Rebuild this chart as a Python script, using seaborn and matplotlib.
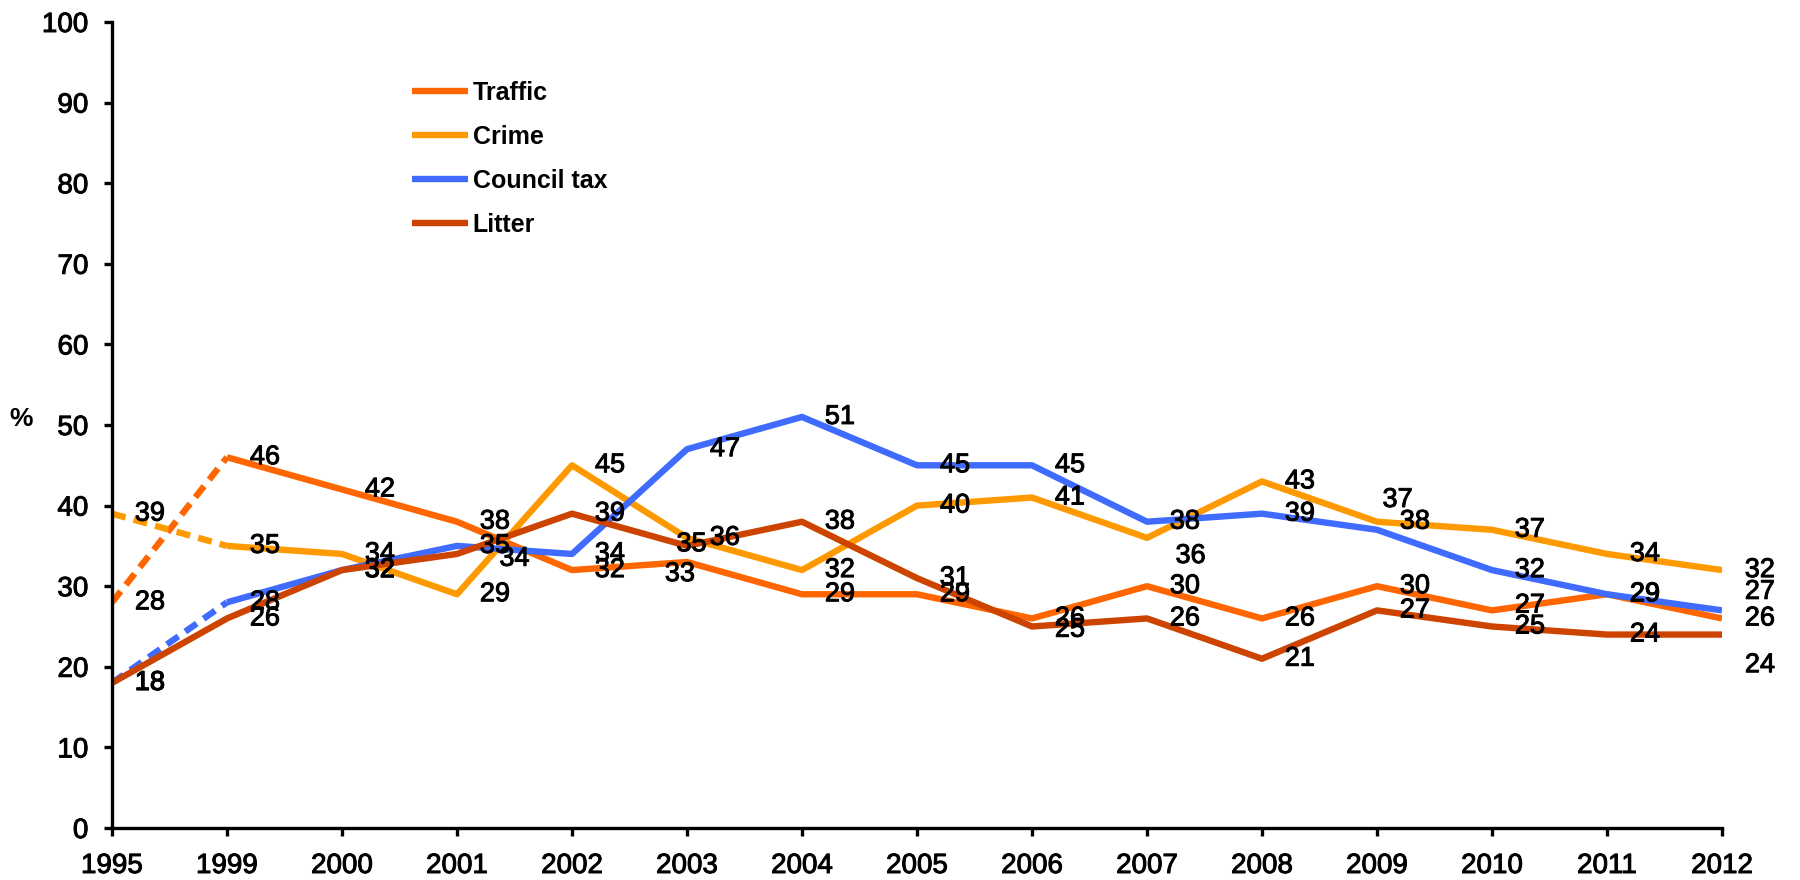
import numpy as np
import pandas as pd
import matplotlib
matplotlib.use("Agg")
import matplotlib.pyplot as plt
import matplotlib.patheffects as pe
import seaborn as sns
from matplotlib.font_manager import FontProperties

# ---------------- data ----------------
YEARS = ["1995", "1999", "2000", "2001", "2002", "2003", "2004", "2005",
         "2006", "2007", "2008", "2009", "2010", "2011", "2012"]
SERIES = ["Traffic", "Crime", "Council tax", "Litter"]
TRAFFIC = [28, 46, 42, 38, 32, 33, 29, 29, 26, 30, 26, 30, 27, 29, 26]
CRIME = [39, 35, 34, 29, 45, 36, 32, 40, 41, 36, 43, 38, 37, 34, 32]
COUNCIL_TAX = [18, 28, 32, 35, 34, 47, 51, 45, 45, 38, 39, 37, 32, 29, 27]
LITTER = [18, 26, 32, 34, 39, 35, 38, 31, 25, 26, 21, 27, 25, 24, 24]
Y_TICKS = [0, 10, 20, 30, 40, 50, 60, 70, 80, 90, 100]

VALUES = {"Traffic": TRAFFIC, "Crime": CRIME,
          "Council tax": COUNCIL_TAX, "Litter": LITTER}

# ---------------- style ----------------
COLORS = {"Traffic": "#FF6600", "Crime": "#FF9900",
          "Council tax": "#3F6BFF", "Litter": "#CC4400"}
DASHED_FIRST = {"Traffic": True, "Crime": True,
                "Council tax": True, "Litter": False}
# manual label nudges (dx in category units, dy in value units)
NUDGE = {("Litter", "2001"): (0.17, -0.6),
         ("Litter", "2003"): (-0.29, 0.2),
         ("Traffic", "2003"): (-0.39, -1.5),
         ("Crime", "2007"): (0.05, -2.25),
         ("Council tax", "2009"): (-0.15, 3.7),
         ("Traffic", "2010"): (0.0, 0.6),
         ("Litter", "2006"): (0.0, -0.4),
         ("Council tax", "2012"): (0.0, 2.3),
         ("Litter", "2012"): (0.0, -3.8)}

sns.set_theme(style="white")
plt.rcParams["font.family"] = ["Liberation Sans", "DejaVu Sans"]
plt.rcParams["text.color"] = "black"

THICK = [pe.withStroke(linewidth=0.7, foreground="black")]
LW = 4.6
fig = plt.figure(figsize=(18, 8.8), dpi=100)
ax = fig.add_axes([112 / 1800, 1 - 828 / 880, (1722 - 112) / 1800, (828 - 22) / 880])

xpos = np.arange(len(YEARS))
for name in SERIES:
    df = pd.DataFrame({"x": xpos, "y": VALUES[name]})
    start = 1 if DASHED_FIRST[name] else 0
    sns.lineplot(data=df.iloc[start:], x="x", y="y", color=COLORS[name],
                 lw=LW, ax=ax, label=name, solid_joinstyle="round",
                 solid_capstyle="butt")
    if DASHED_FIRST[name]:
        sns.lineplot(data=df.iloc[:2], x="x", y="y", color=COLORS[name],
                     lw=LW, ax=ax, linestyle=(0, (2.2, 1.3)),
                     label="_nolegend_")

# data labels
for name in SERIES:
    for i, (yr, v) in enumerate(zip(YEARS, VALUES[name])):
        dx, dy = NUDGE.get((name, yr), (0.0, 0.0))
        ax.text(i + 0.33 + dx, v + dy, f"{v}", ha="center", va="center",
                fontsize=19.5, color="black", zorder=5, path_effects=THICK)

ax.set_xlim(0, len(YEARS) - 1)
ax.set_ylim(0, 100)
ax.set_xticks(xpos)
ax.set_xticklabels(YEARS)
ax.set_yticks(Y_TICKS)
ax.set_xlabel("")
ax.set_ylabel("")
for s in ["top", "right"]:
    ax.spines[s].set_visible(False)
for s in ["left", "bottom"]:
    ax.spines[s].set_color("black")
    ax.spines[s].set_linewidth(2.4)
ax.tick_params(axis="both", which="major", direction="out", length=6,
               width=2.4, color="black", labelsize=20, labelcolor="black",
               left=True, bottom=True)
ax.tick_params(axis="y", pad=11)
ax.tick_params(axis="x", pad=12)
for lbl in ax.get_xticklabels() + ax.get_yticklabels():
    lbl.set_path_effects(THICK)
ax.grid(False)

fig.text(21 / 1800, 1 - 419 / 880, "%", ha="center", va="center",
         fontsize=19, fontweight="bold", color="black")

handles, labels = ax.get_legend_handles_labels()
leg = ax.legend(handles, labels, loc="upper left",
                bbox_to_anchor=(412 / 1800, 1 - 81 / 880),
                bbox_transform=fig.transFigure, frameon=False,
                prop=FontProperties(family="Liberation Sans", weight="bold", size=18),
                handlelength=2.25, handletextpad=0.18, labelspacing=0.8,
                borderpad=0, borderaxespad=0)
for t in leg.get_texts():
    t.set_color("black")

fig.savefig("out.png", dpi=100)
